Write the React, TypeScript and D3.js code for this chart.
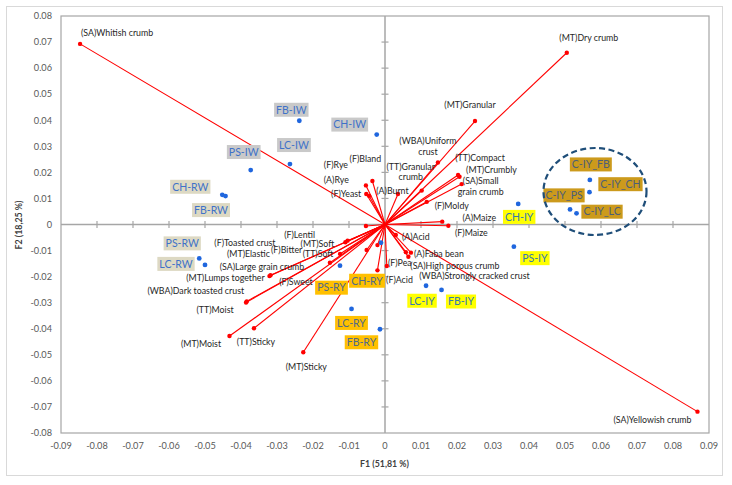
import React from 'react';
import * as d3 from 'd3';

// ---------- data ----------
const varNames = [
  '(SA)Whitish crumb', '(MT)Dry crumb', '(MT)Granular', '(WBA)Uniform\ncrust', '(TT)Granular\ncrumb',
  '(TT)Compact', '(MT)Crumbly', '(SA)Small\ngrain crumb', '(F)Moldy', '(A)Maize', '(F)Maize',
  '(A)Burnt', '(F)Bland', '(F)Rye', '(A)Rye', '(F)Yeast',
  '(F)Lentil', '(MT)Soft', '(TT)Soft', '(F)Bitter', '(F)Toasted crust', '(MT)Elastic', '(F)Sweet',
  '(SA)Large grain crumb', '(MT)Lumps together', '(WBA)Dark toasted crust', '(TT)Moist', '(MT)Moist',
  '(TT)Sticky', '(MT)Sticky',
  '(A)Acid', '(A)Faba bean', '(SA)High porous crumb', '(WBA)Strongly cracked crust', '(F)Pea', '(F)Acid',
  '(SA)Yellowish crumb',
];
const varF1 = [
  -0.0847, 0.0505, 0.025, 0.0147, 0.0102,
  0.0203, 0.0207, 0.0213, 0.0116, 0.0159, 0.0176,
  0.0036, -0.0035, -0.0053, -0.0052, -0.0044,
  -0.0104, -0.011, -0.0125, -0.0051, -0.0053, -0.0021, -0.0153,
  -0.0318, -0.0321, -0.0384, -0.0386, -0.0432,
  -0.0364, -0.0227,
  0.003, 0.0072, 0.0058, 0.0065, 0.0005, -0.0021,
  0.0868,
];
const varF2 = [
  0.0693, 0.0659, 0.0397, 0.0238, 0.013,
  0.019, 0.0183, 0.0155, 0.0087, 0.0011, -0.0005,
  0.0117, 0.0167, 0.015, 0.0117, 0.011,
  -0.0062, -0.0068, -0.0113, -0.0098, -0.0006, -0.0079, -0.0147,
  -0.0195, -0.0198, -0.0295, -0.0299, -0.0428,
  -0.0398, -0.049,
  -0.004, -0.0108, -0.0106, -0.0124, -0.0159, -0.0176,
  -0.0718,
];

const obsNames = [
  'FB-IW', 'CH-IW', 'LC-IW', 'PS-IW',
  'CH-RW', 'FB-RW', 'PS-RW', 'LC-RW',
  'PS-RY', 'CH-RY', 'LC-RY', 'FB-RY',
  'CH-IY', 'PS-IY', 'LC-IY', 'FB-IY',
  'C-IY_FB', 'C-IY_CH', 'C-IY_PS', 'C-IY_LC',
];
const obsF1 = [
  -0.0238, -0.0023, -0.0264, -0.0373,
  -0.0452, -0.0443, -0.0516, -0.05,
  -0.0125, -0.0011, -0.0093, -0.0014,
  0.037, 0.0358, 0.0114, 0.0157,
  0.0569, 0.0568, 0.0514, 0.0532,
];
const obsF2 = [
  0.0398, 0.0345, 0.0232, 0.0209,
  0.0114, 0.0109, -0.013, -0.0155,
  -0.0158, -0.007, -0.0324, -0.0402,
  0.0079, -0.0085, -0.0235, -0.0251,
  0.0171, 0.0124, 0.0058, 0.0043,
];
const obsGroup = [
  'IW', 'IW', 'IW', 'IW',
  'RW', 'RW', 'RW', 'RW',
  'RY', 'RY', 'RY', 'RY',
  'IY', 'IY', 'IY', 'IY',
  'CIY', 'CIY', 'CIY', 'CIY',
];

const xTickValues = d3.range(-9, 10).map((i) => i / 100);
const yTickValues = d3.range(-8, 9).map((i) => i / 100);
const xTitle = 'F1 (51,81 %)';
const yTitle = 'F2 (18,25 %)';

// ---------- label placement (pixels, relative to point) ----------
const varLabelDx = [
  37, 22, -5, -10, -11,
  22, 32, 19, 25, 37, 23,
  -5.5, -7, -30, -30, -23,
  -48, -28, -22, -80, -121, -129, -34,
  -8.5, -44, -51, -31, -28.5,
  2, 3,
  20, 28, 49, 66, 13, 22,
  -45,
];
const varLabelDy = [
  -11, -15, -16, -21, -24,
  -16.5, -6.5, -3, 4, -4, 7,
  -3.3, -22, -20, -14, -2,
  -6, 2, 0, 0, 17, 9, 19.5,
  -8, 2, -10, 8, 8,
  13.5, 14.5,
  2, 1.4, 14, 19, -3, 10,
  8,
];
const obsLabelDx = [
  -8, -27, 4, -7,
  -32, -14.5, -17, -29,
  -8.5, -14, 0, -18.5,
  1, 21, -4, 19.5,
  1, 31, -6, 25.5,
];
const obsLabelDy = [
  -11, -10, -19, -18,
  -8, 14, -15, -1,
  22, 38, 14, 13,
  13, 11.5, 15, 11.6,
  -15.5, -8, -14, -1.6,
];

const groupStyle: Record<string, { bg: string; fg: string }> = {
  IW: { bg: '#c9c9c9', fg: '#3f72c8' },
  RW: { bg: '#ddd9c3', fg: '#3f72c8' },
  RY: { bg: '#ffc000', fg: '#4f6a8c' },
  IY: { bg: '#ffff00', fg: '#3479b0' },
  CIY: { bg: '#cc9a1c', fg: '#4d5f78' },
};

const FONT = 'Lato, "Liberation Sans", sans-serif';

let measureCtx: CanvasRenderingContext2D | null = null;
function textWidth(t: string, size: number) {
  if (!measureCtx) measureCtx = document.createElement('canvas').getContext('2d');
  if (!measureCtx) return t.length * size * 0.5;
  measureCtx.font = `${size}px Lato`;
  return measureCtx.measureText(t).width;
}

export default function App() {
  const W = 732;
  const H = 485;
  const x = d3.scaleLinear().domain([-0.09, 0.09]).range([61, 709]);
  const y = d3.scaleLinear().domain([-0.08, 0.08]).range([433, 16]);
  const x0 = x(0);
  const y0 = y(0);
  const fmt = (v: number) => (Math.abs(v) < 1e-9 ? '0' : v.toFixed(2));
  const obsFont = 10.5;

  return (
    <svg width={W} height={H} style={{ position: 'absolute', left: 0, top: 0, background: '#fff' }} fontFamily={FONT}>
      <rect x={6.5} y={6.5} width={716} height={469} fill="#fff" stroke="#d9d9d9" strokeWidth={1} />
      <rect x={x(-0.09)} y={y(0.08)} width={x(0.09) - x(-0.09)} height={y(-0.08) - y(0.08)} fill="none" stroke="#a6a6a6" strokeWidth={1.2} />

      {/* centre axes */}
      <line x1={x(-0.09)} x2={x(0.09)} y1={y0} y2={y0} stroke="#a6a6a6" strokeWidth={1.5} />
      <line x1={x0} x2={x0} y1={y(0.08)} y2={y(-0.08)} stroke="#a6a6a6" strokeWidth={1.5} />
      {xTickValues.slice(1, -1).map((v) => (
        <line key={'xt' + v} x1={x(v)} x2={x(v)} y1={y0 - 3.5} y2={y0 + 3.5} stroke="#a6a6a6" strokeWidth={1.2} />
      ))}
      {yTickValues.slice(1, -1).map((v) => (
        <line key={'yt' + v} x1={x0 - 3.5} x2={x0 + 3.5} y1={y(v)} y2={y(v)} stroke="#a6a6a6" strokeWidth={1.2} />
      ))}

      {/* tick labels */}
      {xTickValues.map((v) => (
        <text key={'xl' + v} x={x(v)} y={449} textAnchor="middle" fontSize={9.2} fill="#595959">{fmt(v)}</text>
      ))}
      {yTickValues.map((v) => (
        <text key={'yl' + v} x={52} y={y(v) + 3.3} textAnchor="end" fontSize={9.2} fill="#595959">{fmt(v)}</text>
      ))}
      <text x={384.5} y={467} textAnchor="middle" fontSize={8.8} fontWeight="bold" fill="#404040">{xTitle}</text>
      <text transform={`translate(22,225) rotate(-90)`} textAnchor="middle" fontSize={8.8} fontWeight="bold" fill="#404040">{yTitle}</text>

      {/* variable vectors */}
      {varNames.map((n, i) => (
        <line key={'vl' + i} x1={x0} y1={y0} x2={x(varF1[i])} y2={y(varF2[i])} stroke="#ff0000" strokeWidth={1.1} />
      ))}
      {varNames.map((n, i) => (
        <circle key={'vp' + i} cx={x(varF1[i])} cy={y(varF2[i])} r={2.2} fill="#ff0000" />
      ))}
      {varNames.map((n, i) => {
        const lines = n.split('\n');
        const cx = x(varF1[i]) + varLabelDx[i];
        const cy = y(varF2[i]) + varLabelDy[i];
        return (
          <text key={'vt' + i} x={cx} y={cy + 3} textAnchor="middle" fontSize={8.8} fill="#262626">
            {lines.map((l, j) => (
              <tspan key={j} x={cx} dy={j === 0 ? 0 : 10.5}>{l}</tspan>
            ))}
          </text>
        );
      })}

      {/* observations */}
      {obsNames.map((n, i) => (
        <circle key={'op' + i} cx={x(obsF1[i])} cy={y(obsF2[i])} r={2.4} fill="#1f66de" />
      ))}
      {obsNames.map((n, i) => {
        const st = groupStyle[obsGroup[i]];
        const cx = x(obsF1[i]) + obsLabelDx[i];
        const cy = y(obsF2[i]) + obsLabelDy[i];
        const w = textWidth(n, obsFont) + 4;
        const h = 14;
        return (
          <g key={'ol' + i}>
            <rect x={cx - w / 2} y={cy - h / 2} width={w} height={h} fill={st.bg} />
            <text x={cx} y={cy + 3.8} textAnchor="middle" fontSize={obsFont} fill={st.fg}>{n}</text>
          </g>
        );
      })}

      <ellipse cx={595} cy={191.5} rx={51.5} ry={43.5} fill="none" stroke="#1f4e79" strokeWidth={2.2} strokeDasharray="6,3.5" />
    </svg>
  );
}
